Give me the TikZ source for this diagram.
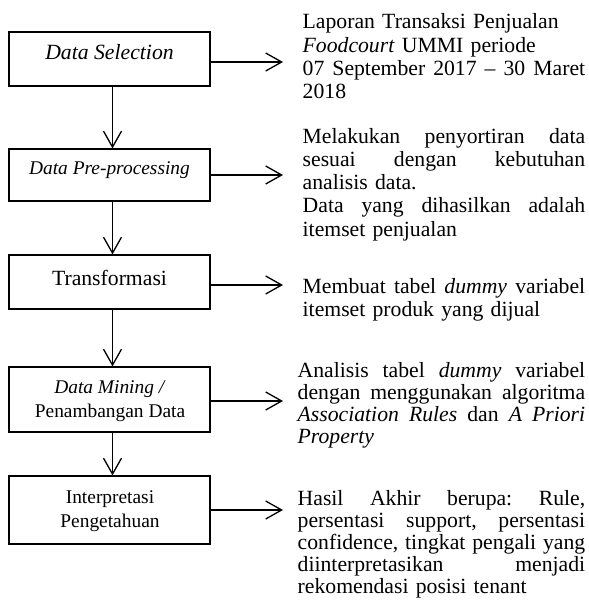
\documentclass[tikz,border=0pt]{standalone}
\usepackage{fontspec}
\setmainfont{Liberation Serif}
\usetikzlibrary{arrows.meta}
\newcommand\jla[1]{\leavevmode\hbox to 282.5pt{\spaceskip=0.25em plus 1fil minus 0.05em\relax #1}}
\newcommand\jlb[1]{\leavevmode\hbox to 287.5pt{\spaceskip=0.25em plus 1fil minus 0.05em\relax #1}}
\begin{document}
\begin{tikzpicture}[x=1pt,y=-1pt,
  box/.style={draw, line width=1.1pt, inner sep=0pt, minimum width=201pt},
  lbl/.style={anchor=base, inner sep=0pt, align=center},
  big/.style={font=\fontsize{21.7}{23}\selectfont},
  small/.style={font=\fontsize{19.4}{24}\selectfont},
  desc/.style={anchor=base west, inner sep=0pt, align=left},
  desca/.style={desc, text width=282.5pt, font=\fontsize{21.7}{23.3}\selectfont\frenchspacing},
  descb/.style={desc, text width=287.5pt, font=\fontsize{21.7}{22.2}\selectfont\frenchspacing},
  flow/.style={line width=1.3pt, -{Straight Barb[length=16pt,width=18pt]}},
]
\useasboundingbox (0,0) rectangle (588,604);

% boxes
\node[box, minimum height=54pt] (b1) at (109.5,59) {};
\node[box, minimum height=52pt] (b2) at (109.5,175) {};
\node[box, minimum height=54pt] (b3) at (109.5,282) {};
\node[box, minimum height=65pt] (b4) at (109.5,399.5) {};
\node[box, minimum height=68pt] (b5) at (109.5,510) {};

% box labels
\node[lbl, big] (l1) at (109.5,60) {\textit{Data Selection}};
\node[lbl, small] (l2) at (109.5,175) {\textit{Data Pre-processing}};
\node[lbl, big] (l3) at (109.5,285) {Transformasi};
\node[lbl, small] (l4) at (110,417) {\textit{Data Mining /}\\Penambangan Data};
\node[lbl, small] (l5) at (110,527) {Interpretasi\\Pengetahuan};

% descriptions
\node[desca] (d1) at (302.5,29) {Laporan Transaksi Penjualan\\
\textit{Foodcourt} UMMI periode\\
\jla{07 September 2017 – 30 Maret}\\
2018};
\node[desca] (d2) at (302.5,143) {\jla{Melakukan penyortiran data}\\
\jla{sesuai dengan kebutuhan}\\
analisis data.\\
\jla{Data yang dihasilkan adalah}\\
itemset penjualan};
\node[desca] (d3) at (302.5,293) {\jla{Membuat tabel \textit{dummy} variabel}\\
itemset produk yang dijual};
\node[descb] (d4) at (297.5,377) {\jlb{Analisis tabel \textit{dummy} variabel}\\
\jlb{dengan menggunakan algoritma}\\
\jlb{\textit{Association Rules} dan \textit{A Priori}}\\
\textit{Property}};
\node[descb] (d5) at (297.5,505) {\jlb{Hasil Akhir berupa: Rule,}\\
\jlb{persentasi support, persentasi}\\
\jlb{confidence, tingkat pengali yang}\\
\jlb{diinterpretasikan menjadi}\\
rekomendasi posisi tenant};

% arrow ends
\coordinate (e1) at (283,62);
\coordinate (e2) at (283,175);
\coordinate (e3) at (283,285);
\coordinate (e4) at (283,401);
\coordinate (e5) at (283,510);

% down connectors
\draw[flow] ([xshift=3pt]b1.south) -- ([xshift=3pt]b2.north);
\draw[flow] ([xshift=3pt]b2.south) -- ([xshift=3pt]b3.north);
\draw[flow] ([xshift=3pt]b3.south) -- ([xshift=3pt]b4.north);
\draw[flow] ([xshift=3pt]b4.south) -- ([xshift=3pt]b5.north);

% right connectors
\draw[flow] (b1.east |- e1) -- (e1);
\draw[flow] (b2.east |- e2) -- (e2);
\draw[flow] (b3.east |- e3) -- (e3);
\draw[flow] (b4.east |- e4) -- (e4);
\draw[flow] (b5.east |- e5) -- (e5);
\end{tikzpicture}
\end{document}
